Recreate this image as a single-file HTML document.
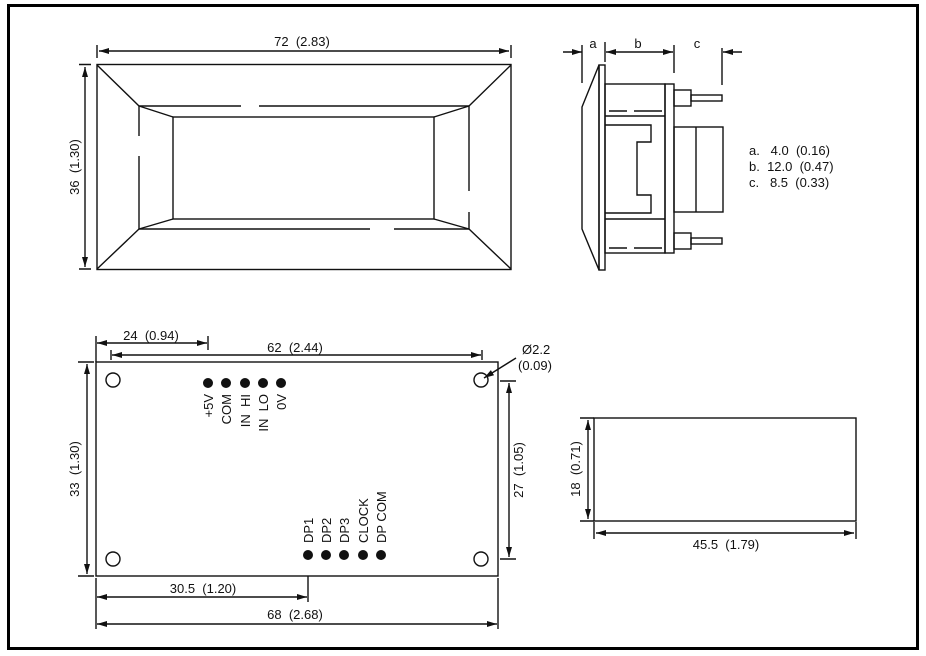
<!DOCTYPE html>
<html><head><style>
body{margin:0;background:#fff;}
svg{display:block;}
text{font-family:"Liberation Sans","DejaVu Sans",sans-serif;font-size:13px;fill:#111;}
</style></head><body>
<svg width="926" height="656" viewBox="0 0 926 656" xmlns="http://www.w3.org/2000/svg">
<defs>
<marker id="a" viewBox="0 0 10 6" refX="10" refY="3" markerWidth="10" markerHeight="6" markerUnits="userSpaceOnUse" orient="auto-start-reverse"><path d="M0,0L10,3L0,6z" fill="#111"/></marker>
</defs>
<rect x="8.5" y="5.5" width="909" height="643" fill="none" stroke="#000" stroke-width="3"/>
<g stroke="#111" stroke-width="1.4" fill="none">
<!-- front view -->
<rect x="97" y="64.5" width="414" height="205"/>
<rect x="173" y="117" width="261" height="102"/>
<path d="M97,65L139,106M511,65L469,106M97,269L139,229M511,269L469,229"/>
<path d="M139,106L173,117M469,106L434,117M139,229L173,219M469,229L434,219"/>
<path d="M139,106H241M259,106H469M139,229H370M394,229H469M139,106V136M139,156V229M469,106V191M469,212V229"/>
<path d="M97,45V58M511,45V58M79,64.5H91M79,269H91"/>
<path d="M99,51H509" marker-start="url(#a)" marker-end="url(#a)"/>
<path d="M85,67V267" marker-start="url(#a)" marker-end="url(#a)"/>
<!-- side view -->
<path d="M599,65L582,107V229L599,270Z"/>
<rect x="599" y="65" width="6" height="205"/>
<rect x="605" y="84" width="60" height="169"/>
<rect x="665" y="84" width="9" height="169"/>
<path d="M605,116H665M605,219H665"/>
<path d="M609,111H627M634,111H662M609,248H627M634,248H662" />
<path d="M605,125H651V142H637V195H651V213H605"/>
<rect x="674" y="127" width="49" height="85"/>
<path d="M696,127V212"/>
<rect x="674" y="90" width="17" height="16"/>
<rect x="691" y="95" width="31" height="6"/>
<rect x="674" y="233" width="17" height="16"/>
<rect x="691" y="238" width="31" height="6"/>
<path d="M582,45V83M605,42V62M674,45V73M722,48V85"/>
<path d="M563,52H582" marker-end="url(#a)"/>
<path d="M606,52H673" marker-start="url(#a)" marker-end="url(#a)"/>
<path d="M742,52H723" marker-end="url(#a)"/>
<!-- bottom view -->
<rect x="96" y="362" width="402" height="214"/>
<circle cx="113" cy="380" r="7"/><circle cx="481" cy="380" r="7"/>
<circle cx="113" cy="559" r="7"/><circle cx="481" cy="559" r="7"/>
<path d="M96,336V362M208,336V350M498,578V629M96,578V629M308,576V602M78,362H94M78,576H94M500,381H516M500,559H516"/>
<path d="M97,343H207" marker-start="url(#a)" marker-end="url(#a)"/>
<path d="M111,350V360M482,350V360"/>
<path d="M112,355H481" marker-start="url(#a)" marker-end="url(#a)"/>
<path d="M87,364V574" marker-start="url(#a)" marker-end="url(#a)"/>
<path d="M509,383V557" marker-start="url(#a)" marker-end="url(#a)"/>
<path d="M97,597H307" marker-start="url(#a)" marker-end="url(#a)"/>
<path d="M97,624H497" marker-start="url(#a)" marker-end="url(#a)"/>
<path d="M516,358L484,378" marker-end="url(#a)"/>
<!-- small rect -->
<rect x="594" y="418" width="262" height="103"/>
<path d="M580,418H594M580,521H594M594,522V539M856,522V539"/>
<path d="M588,420V519" marker-start="url(#a)" marker-end="url(#a)"/>
<path d="M596,533H854" marker-start="url(#a)" marker-end="url(#a)"/>
</g>
<g fill="#111">
<circle cx="208" cy="383" r="5"/><circle cx="226" cy="383" r="5"/><circle cx="245" cy="383" r="5"/><circle cx="263" cy="383" r="5"/><circle cx="281" cy="383" r="5"/>
<circle cx="308" cy="555" r="5"/><circle cx="326" cy="555" r="5"/><circle cx="344" cy="555" r="5"/><circle cx="363" cy="555" r="5"/><circle cx="381" cy="555" r="5"/>
</g>
<text x="302" y="46" text-anchor="middle">72 &#160;(2.83)</text>
<text transform="translate(79,167) rotate(-90)" text-anchor="middle">36 &#160;(1.30)</text>
<text x="593" y="48" text-anchor="middle">a</text>
<text x="638" y="48" text-anchor="middle">b</text>
<text x="697" y="48" text-anchor="middle">c</text>
<text x="749" y="155">a. &#160;&#160;4.0 &#160;(0.16)</text>
<text x="749" y="171">b. &#160;12.0 &#160;(0.47)</text>
<text x="749" y="187">c. &#160;&#160;8.5 &#160;(0.33)</text>
<text x="151" y="340" text-anchor="middle">24 &#160;(0.94)</text>
<text x="295" y="352" text-anchor="middle">62 &#160;(2.44)</text>
<text x="522" y="354">Ø2.2</text>
<text x="518" y="370">(0.09)</text>
<text transform="translate(79,469) rotate(-90)" text-anchor="middle">33 &#160;(1.30)</text>
<text transform="translate(523,470) rotate(-90)" text-anchor="middle">27 &#160;(1.05)</text>
<text x="203" y="593" text-anchor="middle">30.5 &#160;(1.20)</text>
<text x="295" y="619" text-anchor="middle">68 &#160;(2.68)</text>
<text transform="translate(580,469) rotate(-90)" text-anchor="middle">18 &#160;(0.71)</text>
<text x="726" y="549" text-anchor="middle">45.5 &#160;(1.79)</text>
<g>
<text transform="translate(213,394) rotate(-90)" text-anchor="end">+5V</text>
<text transform="translate(231,394) rotate(-90)" text-anchor="end">COM</text>
<text transform="translate(250,394) rotate(-90)" text-anchor="end">IN &#160;HI</text>
<text transform="translate(268,394) rotate(-90)" text-anchor="end">IN &#160;LO</text>
<text transform="translate(286,394) rotate(-90)" text-anchor="end">0V</text>
<text transform="translate(313,543) rotate(-90)">DP1</text>
<text transform="translate(331,543) rotate(-90)">DP2</text>
<text transform="translate(349,543) rotate(-90)">DP3</text>
<text transform="translate(368,543) rotate(-90)">CLOCK</text>
<text transform="translate(386,543) rotate(-90)">DP COM</text>
</g>
</svg>
</body></html>
